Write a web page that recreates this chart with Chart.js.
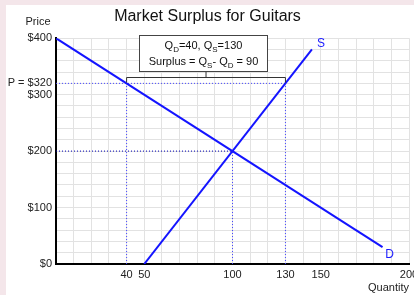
<!DOCTYPE html>
<html>
<head>
<meta charset="utf-8">
<script src="https://cdn.jsdelivr.net/npm/chart.js@4"></script>
<style>
  body { margin: 0; background: #f4e6ea; overflow: hidden; }
  #wrap { position: absolute; left: 6px; top: 5px; width: 408px; height: 290px; overflow: hidden; background: #fff; }
  #chart { display: block; }
</style>
</head>
<body>
<div id="wrap"><canvas id="chart" width="420" height="290" style="width:420px;height:290px"></canvas></div>
<script>
// market data (quantity, price)
const demandQ = [0, 185];
const demandP = [400, 30];
const supplyQ = [50, 145];
const supplyP = [0, 380];
const priceSet = 320;
const qDemanded = 40;
const qSupplied = 130;
const eqQ = 100;
const eqP = 200;

const xTicks = [40, 50, 100, 130, 150, 200];
const yTicks = [0, 100, 200, 300, 320, 400];
const yTickLabels = ['$0', '$100', '$200', '$300', 'P = $320', '$400'];

const FONT = 'Arial, "Liberation Sans", sans-serif';

function pts(xs, ys) {
  return xs.map((x, i) => ({ x: x, y: ys[i] }));
}

// text with subscripts, centred on cx
function drawRich(ctx, parts, cx, cy, size) {
  let w = 0;
  parts.forEach(p => {
    ctx.font = (p[1] ? size - 3 : size) + 'px ' + FONT;
    w += ctx.measureText(p[0]).width;
  });
  let x = cx - w / 2;
  ctx.textAlign = 'left';
  ctx.textBaseline = 'middle';
  parts.forEach(p => {
    ctx.font = (p[1] ? size - 3 : size) + 'px ' + FONT;
    ctx.fillText(p[0], x, p[1] ? cy + 4 : cy);
    x += ctx.measureText(p[0]).width;
  });
}

const annotations = {
  id: 'annotations',
  afterDatasetsDraw(chart) {
    const ctx = chart.ctx;
    const xs = chart.scales.x, ys = chart.scales.y;
    ctx.save();

    // axis label for price
    ctx.fillStyle = '#222';
    ctx.font = '11px ' + FONT;
    ctx.textAlign = 'center';
    ctx.textBaseline = 'middle';
    ctx.fillText('Price', 32, 17);

    // curve labels
    ctx.fillStyle = '#1a1aff';
    ctx.font = '12px ' + FONT;
    const sx = xs.getPixelForValue(supplyQ[1]), sy = ys.getPixelForValue(supplyP[1]);
    ctx.fillText('S', sx + 9, sy - 6);
    const dx = xs.getPixelForValue(demandQ[1]), dy = ys.getPixelForValue(demandP[1]);
    ctx.fillText('D', dx + 7, dy + 8);

    // bracket over the surplus
    const x1 = xs.getPixelForValue(qDemanded);
    const x2 = xs.getPixelForValue(qSupplied);
    const by = Math.round(ys.getPixelForValue(priceSet) - 6) + 0.5;
    const mid = (x1 + x2) / 2;
    ctx.strokeStyle = '#333';
    ctx.lineWidth = 1;
    ctx.beginPath();
    ctx.moveTo(x1, by + 5);
    ctx.lineTo(x1, by);
    ctx.lineTo(x2, by);
    ctx.lineTo(x2, by + 5);
    ctx.moveTo(mid, by);
    ctx.lineTo(mid, by - 7);
    ctx.stroke();

    // text box
    const bw = 128, bh = 36;
    const bx = Math.round(mid - 3 - bw / 2) + 0.5;
    const btop = Math.round(by - 7 - bh) + 0.5;
    ctx.fillStyle = '#fff';
    ctx.fillRect(bx, btop, bw, bh);
    ctx.strokeStyle = '#444';
    ctx.strokeRect(bx, btop, bw, bh);
    ctx.fillStyle = '#111';
    drawRich(ctx, [['Q'], ['D', 1], ['=' + qDemanded + ', Q'], ['S', 1], ['=' + qSupplied]], bx + bw / 2, btop + 10, 11);
    drawRich(ctx, [['Surplus = Q'], ['S', 1], ['- Q'], ['D', 1], [' = ' + (qSupplied - qDemanded)]], bx + bw / 2, btop + 26, 11);

    ctx.restore();
  }
};

const ctx = document.getElementById('chart');
const myChart = new Chart(ctx, {
  type: 'scatter',
  data: {
    datasets: [
      { label: 'Demand', data: pts(demandQ, demandP), showLine: true, borderColor: '#1414ff', borderWidth: 2, pointRadius: 0 },
      { label: 'Supply', data: pts(supplyQ, supplyP), showLine: true, borderColor: '#1414ff', borderWidth: 2, pointRadius: 0 },
      { label: 'eqH', data: pts([0, eqQ], [eqP, eqP]), showLine: true, borderColor: '#0000b4', borderWidth: 1, borderDash: [1, 2], pointRadius: 0 },
      { label: 'eqV', data: pts([eqQ, eqQ], [0, eqP]), showLine: true, borderColor: '#4848ff', borderWidth: 1, borderDash: [1, 2], pointRadius: 0 },
      { label: 'priceH', data: pts([0, qSupplied], [priceSet, priceSet]), showLine: true, borderColor: '#4848ff', borderWidth: 1, borderDash: [1, 2], pointRadius: 0 },
      { label: 'qdV', data: pts([qDemanded, qDemanded], [0, priceSet]), showLine: true, borderColor: '#4848ff', borderWidth: 1, borderDash: [1, 2], pointRadius: 0 },
      { label: 'qsV', data: pts([qSupplied, qSupplied], [0, priceSet]), showLine: true, borderColor: '#4848ff', borderWidth: 1, borderDash: [1, 2], pointRadius: 0 }
    ]
  },
  options: {
    responsive: false,
    animation: false,
    layout: { padding: { left: 0, right: 17, top: 0, bottom: 0 } },
    plugins: {
      legend: { display: false },
      tooltip: { enabled: false },
      title: {
        display: true,
        text: 'Market Surplus for Guitars',
        color: '#111',
        font: { family: FONT, size: 16, weight: 'normal' },
        padding: { top: 2, bottom: 12 }
      }
    },
    scales: {
      x: {
        type: 'linear',
        min: 0,
        max: 200,
        afterFit(scale) { scale.height = 31; },
        grid: { color: '#e2e2e2', drawTicks: false },
        border: { color: '#000', width: 2 },
        ticks: {
          stepSize: 10,
          autoSkip: false,
          maxRotation: 0,
          padding: 4,
          color: '#222',
          font: { family: FONT, size: 11 },
          callback: v => xTicks.includes(v) ? String(v) : ''
        },
        title: {
          display: true,
          text: 'Quantity',
          align: 'end',
          color: '#222',
          font: { family: FONT, size: 11 },
          padding: 0
        }
      },
      y: {
        type: 'linear',
        min: 0,
        max: 400,
        afterFit(scale) { scale.width = 50; },
        grid: { color: '#e2e2e2', drawTicks: false },
        border: { color: '#000', width: 2 },
        ticks: {
          stepSize: 20,
          autoSkip: false,
          padding: 4,
          color: '#222',
          font: { family: FONT, size: 11 },
          callback: v => {
            const i = yTicks.indexOf(v);
            return i >= 0 ? yTickLabels[i] : '';
          }
        }
      }
    }
  },
  plugins: [annotations]
});
</script>
</body>
</html>
